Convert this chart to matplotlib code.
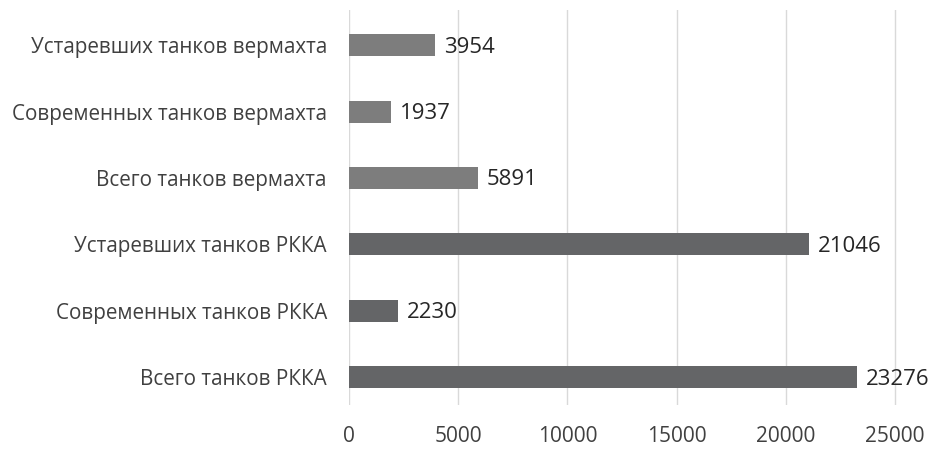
import matplotlib.pyplot as plt

categories = ["Всего танков РККА", "Современных танков РККА", "Устаревших танков РККА",
              "Всего танков вермахта", "Современных танков вермахта", "Устаревших танков вермахта"]
values = [23276, 2230, 21046, 5891, 1937, 3954]
colors = ["#646567", "#646567", "#646567", "#7d7d7d", "#7d7d7d", "#7d7d7d"]
xticks = [0, 5000, 10000, 15000, 20000, 25000]

plt.rcParams["font.family"] = ["Open Sans", "DejaVu Sans"]

fig = plt.figure(figsize=(9.34, 4.49), dpi=100)
ax = fig.add_axes([349 / 934, 44 / 449, 568 / 934, 395 / 449])

y = range(len(categories))
ax.barh(y, values, height=0.33, color=colors, zorder=3)
for i, v in enumerate(values):
    ax.text(v + 400, i - 0.03, str(v), va="center", ha="left", fontsize=16, color="#262626")

ax.set_xlim(0, 26000)
ax.set_ylim(-0.42, 5.53)
ax.set_xticks(xticks)
ax.set_yticks(list(y))
ax.set_yticklabels(categories, fontsize=14.9)
ax.tick_params(axis="both", length=0, colors="#404040")
ax.tick_params(axis="x", pad=15, labelsize=15)
ax.tick_params(axis="y", pad=16)
ax.grid(axis="x", color="#d9d9d9", linewidth=1, zorder=0)
for s in ax.spines.values():
    s.set_visible(False)

fig.savefig("out.png", dpi=100)
